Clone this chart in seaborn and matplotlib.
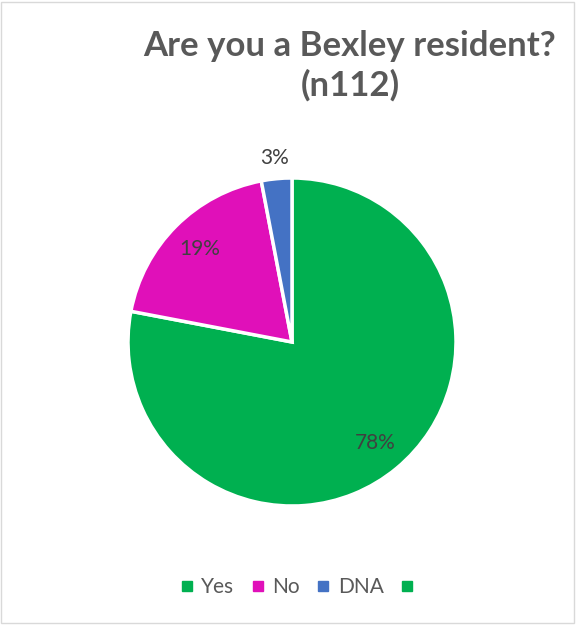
import numpy as np
import matplotlib
matplotlib.use("Agg")
import matplotlib.pyplot as plt
from matplotlib.lines import Line2D
from matplotlib.patches import Rectangle
import seaborn as sns

categories = ["Yes", "No", "DNA", ""]
values = [78, 19, 3, 0]
colors = ["#00B050", "#E010B9", "#4472C4", "#00B050"]
title = "Are you a Bexley resident?\n(n112)"

sns.set_theme(style="white")
plt.rcParams['font.family'] = ['Lato', 'DejaVu Sans']

W, H = 576, 626
fig = plt.figure(figsize=(W / 100, H / 100), dpi=100)

cx, cy, r = 292, 342, 164
ax = fig.add_axes([(cx - r) / W, (H - cy - r) / H, 2 * r / W, 2 * r / H])

vals = [v for v in values if v > 0]
cols = [c for c, v in zip(colors, values) if v > 0]
wedges, texts, autotexts = ax.pie(
    vals, colors=cols, startangle=90, counterclock=False,
    autopct=lambda p: f"{p:.0f}%", pctdistance=0.8, radius=1,
    wedgeprops=dict(edgecolor="white", linewidth=2.5),
    textprops=dict(color="#404040", fontsize=15))
# small slice label placed outside (best fit)
for w, t, v in zip(wedges, autotexts, vals):
    if v < 5:
        ang = np.deg2rad((w.theta1 + w.theta2) / 2)
        t.set_position((1.13 * np.cos(ang), 1.13 * np.sin(ang)))
ax.set_xlim(-1, 1)
ax.set_ylim(-1, 1)
ax.set_aspect("equal")
ax.axis("off")

fig.text(350 / W, 1 - 30 / H, title, ha="center", va="top", fontsize=25,
         fontweight="bold", color="#595959", linespacing=1.25)

handles = [Line2D([0], [0], marker="s", linestyle="none", markersize=6.5,
                  markerfacecolor=c, markeredgecolor=c) for c in colors]
fig.legend(handles, categories, loc="center", bbox_to_anchor=(300 / W, 1 - 587 / H),
           ncol=4, frameon=False, fontsize=15, handletextpad=0.3,
           columnspacing=0.72, handlelength=0.8, labelcolor="#595959")

fig.patches.append(Rectangle((1 / W, 3 / H), (W - 3) / W, (H - 5) / H,
                             transform=fig.transFigure, fill=False,
                             edgecolor="#D9D9D9", linewidth=1))

fig.savefig("out.png", dpi=100, facecolor="white")
